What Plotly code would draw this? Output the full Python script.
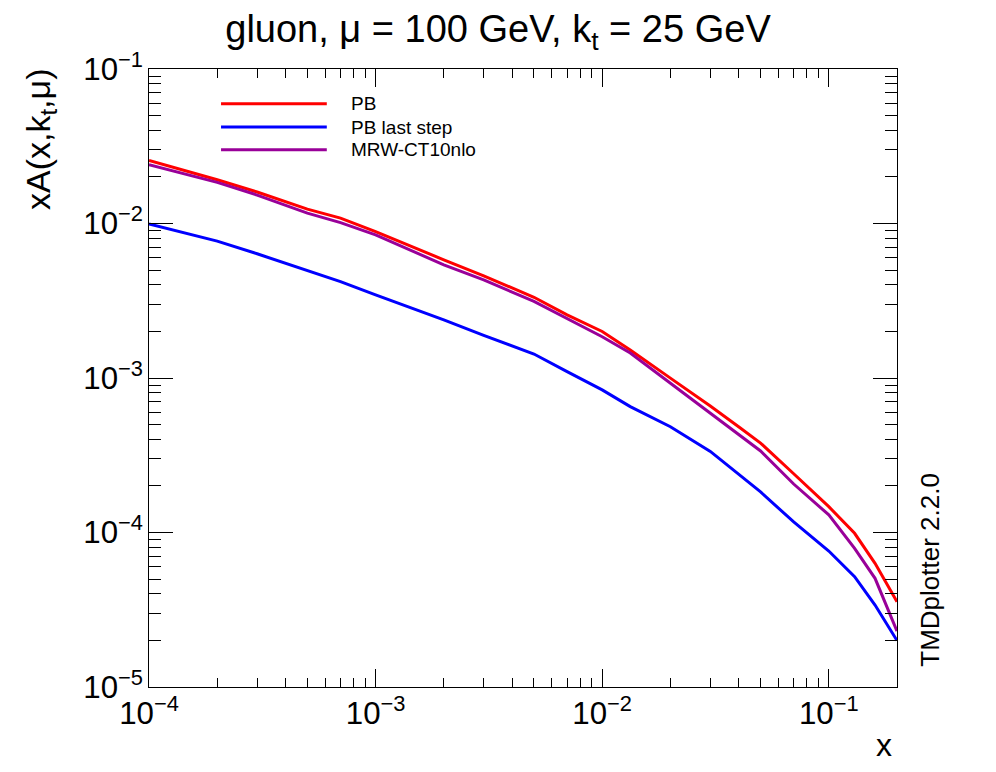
import plotly.graph_objects as go

# ---- data ----
x_vals = [1e-4, 2e-4, 3e-4, 5e-4, 7e-4, 1e-3, 2e-3, 3e-3, 5e-3, 7e-3,
          1e-2, 1.33e-2, 2e-2, 3e-2, 4.07e-2, 5e-2, 7e-2, 0.1, 0.13, 0.16, 0.2]
pb = [0.0256, 0.0192, 0.0160, 0.01239, 0.01084, 8.87e-3, 5.82e-3, 4.58e-3, 3.33e-3, 2.56e-3,
      2.00e-3, 1.52e-3, 9.98e-4, 6.59e-4, 4.75e-4, 3.79e-4, 2.40e-4, 1.47e-4, 9.88e-5, 6.32e-5, 3.56e-5]
pb_last = [9.95e-3, 7.69e-3, 6.37e-3, 4.94e-3, 4.21e-3, 3.45e-3, 2.38e-3, 1.89e-3, 1.43e-3, 1.10e-3,
           8.38e-4, 6.53e-4, 4.84e-4, 3.35e-4, 2.32e-4, 1.83e-4, 1.17e-4, 7.59e-5, 5.18e-5, 3.39e-5, 2.00e-5]
mrw = [0.0240, 0.01845, 0.01528, 0.01167, 0.01014, 8.45e-3, 5.40e-3, 4.32e-3, 3.13e-3, 2.42e-3,
       1.85e-3, 1.45e-3, 9.25e-4, 6.00e-4, 4.27e-4, 3.37e-4, 2.06e-4, 1.30e-4, 7.90e-5, 5.05e-5, 2.30e-5]

series_names = ["PB", "PB last step", "MRW-CT10nlo"]
series_values = [pb, pb_last, mrw]
series_colors = ["#ff0000", "#0000ff", "#990099"]

title_text = "gluon, μ = 100 GeV, k<sub>t</sub> = 25 GeV"
ytitle_text = "xA(x,k<sub>t</sub>,μ)"
xtitle_text = "x"
side_text = "TMDplotter 2.2.0"

FONT = "Liberation Sans, Arial, Helvetica, sans-serif"

fig = go.Figure()
for name, vals, col in zip(series_names, series_values, series_colors):
    fig.add_trace(go.Scatter(x=x_vals, y=vals, mode="lines", name=name,
                             line=dict(color=col, width=3), showlegend=False))

# custom ROOT-like legend
leg_y = [0.9438, 0.9061, 0.8694]
for name, col, yy in zip(series_names, series_colors, leg_y):
    fig.add_shape(type="line", xref="paper", yref="paper", x0=0.0963, x1=0.2377,
                  y0=yy, y1=yy, line=dict(color=col, width=3))
    fig.add_annotation(xref="paper", yref="paper", x=0.2675, y=yy, text=name,
                       showarrow=False, xanchor="left", yanchor="middle",
                       font=dict(family=FONT, size=19, color="black"))

fig.add_annotation(xref="paper", yref="paper", x=-0.1458, y=1.004, text=ytitle_text,
                   textangle=-90, showarrow=False, xanchor="center", yanchor="top",
                   font=dict(family=FONT, size=34, color="black"))
fig.add_annotation(xref="paper", yref="paper", x=0.983, y=-0.094, text=xtitle_text,
                   showarrow=False, xanchor="center", yanchor="middle",
                   font=dict(family=FONT, size=32, color="black"))
fig.add_annotation(xref="paper", yref="paper", x=1.0445, y=0.03, text=side_text,
                   textangle=-90, showarrow=False, xanchor="center", yanchor="bottom",
                   font=dict(family=FONT, size=26, color="black"))

axis_common = dict(type="log", showgrid=False, zeroline=False, showline=True,
                   linecolor="black", linewidth=1, mirror="allticks",
                   ticks="inside", tickcolor="black", tickwidth=1,
                   dtick=1, exponentformat="power",
                   tickfont=dict(family=FONT, size=25, color="black"))

fig.update_xaxes(**axis_common, range=[-4, -0.69897], ticklen=18,
                 minor=dict(ticks="inside", ticklen=9, tickcolor="black", dtick="D1", showgrid=False))
fig.update_yaxes(**axis_common, range=[-5, -1], ticklen=24,
                 minor=dict(ticks="inside", ticklen=12, tickcolor="black", dtick="D1", showgrid=False))

fig.update_layout(
    width=980, height=756,
    margin=dict(l=141, r=91, t=61, b=77),
    paper_bgcolor="white", plot_bgcolor="white",
    title=dict(text=title_text, x=0.5, xanchor="center", y=0.972, yanchor="middle",
               font=dict(family=FONT, size=38, color="black")),
    font=dict(family=FONT, color="black"),
)

fig.write_html("out.html")
